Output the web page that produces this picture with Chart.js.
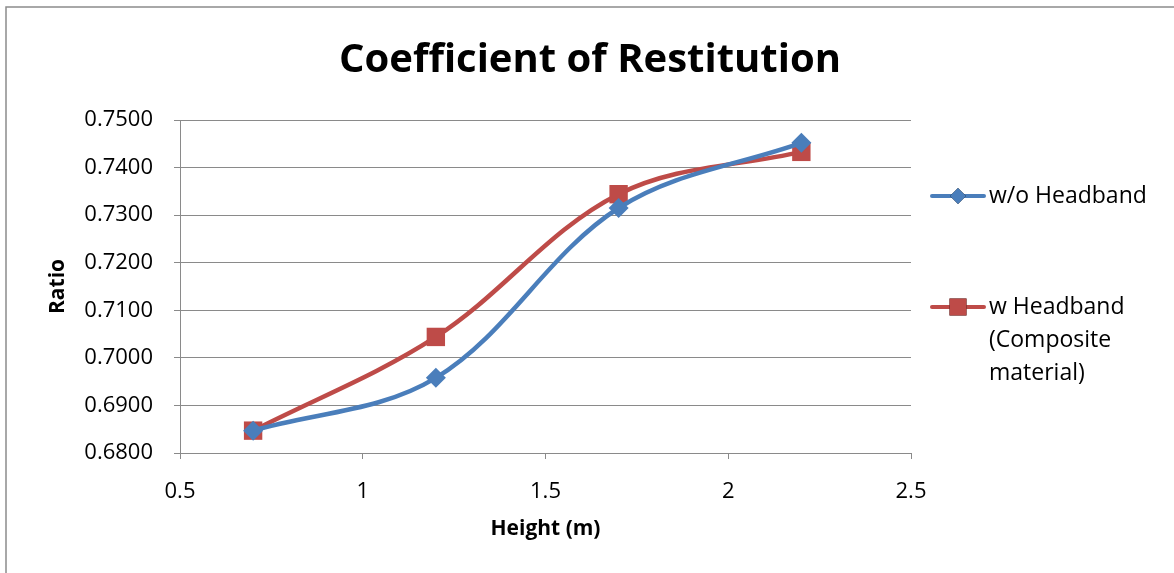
<!DOCTYPE html>
<html>
<head>
<meta charset="utf-8">
<script src="https://cdn.jsdelivr.net/npm/chart.js@4/dist/chart.umd.min.js"></script>
<style>
  html, body { margin: 0; padding: 0; background: #ffffff; }
  canvas { display: block; }
</style>
</head>
<body>
<canvas id="chart" width="1174" height="573"></canvas>
<script>
// Drop height (m) and measured rebound ratio for each condition
const chartTitle = 'Coefficient of Restitution';
const heights = [0.7, 1.2, 1.7, 2.2];
const ratioWithoutHeadband = [0.6847, 0.6958, 0.7315, 0.7452];
const ratioWithHeadband = [0.6847, 0.7044, 0.7344, 0.7433];
const seriesNames = [['w/o Headband'], ['w Headband', '(Composite', 'material)']];
const xTickValues = [0.5, 1, 1.5, 2, 2.5];
const yTickValues = [0.68, 0.69, 0.70, 0.71, 0.72, 0.73, 0.74, 0.75];
const xAxisTitle = 'Height (m)';
const yAxisTitle = 'Ratio';

const FONT = '"Open Sans", "Noto Sans", sans-serif';
const GRID = '#8a8a8a';
const BLUE = '#4a7ebb';
const RED = '#be4b48';

// Frame, centred title and side legend
const decorations = {
  id: 'decorations',
  beforeDraw(chart) {
    const ctx = chart.ctx;
    ctx.save();
    ctx.fillStyle = '#ffffff';
    ctx.fillRect(0, 0, chart.width, chart.height);
    ctx.strokeStyle = '#8c8c8c';
    ctx.lineWidth = 1.5;
    ctx.strokeRect(6, 7, chart.width + 20, chart.height + 20);
    ctx.restore();
  },
  afterDraw(chart) {
    const ctx = chart.ctx;
    ctx.save();
    ctx.fillStyle = '#000000';
    ctx.font = 'bold 40px ' + FONT;
    ctx.textAlign = 'center';
    ctx.textBaseline = 'middle';
    ctx.fillText(chartTitle, chart.width / 2 + 3, 61);

    const rowTop = [196, 307];
    const lineGap = 33;
    chart.data.datasets.forEach((ds, i) => {
      const y = rowTop[i];
      ctx.strokeStyle = ds.borderColor;
      ctx.lineWidth = 4;
      ctx.lineCap = 'round';
      ctx.beginPath();
      ctx.moveTo(932, y);
      ctx.lineTo(984, y);
      ctx.stroke();
      Chart.helpers.drawPoint(ctx, {
        pointStyle: ds.pointStyle,
        radius: ds.legendRadius,
        borderWidth: 0,
        rotation: 0
      }, 958, y);
      ctx.fillStyle = ds.backgroundColor;
      ctx.fill();
      ctx.fillStyle = '#000000';
      ctx.font = '23px ' + FONT;
      ctx.textAlign = 'left';
      ctx.textBaseline = 'middle';
      seriesNames[i].forEach((line, k) => ctx.fillText(line, 989, y + k * lineGap));
    });
    ctx.restore();
  }
};

new Chart(document.getElementById('chart'), {
  type: 'line',
  data: {
    datasets: [
      {
        label: seriesNames[0].join(' '),
        data: heights.map((h, i) => ({ x: h, y: ratioWithoutHeadband[i] })),
        borderColor: BLUE,
        backgroundColor: BLUE,
        borderWidth: 4.5,
        pointStyle: 'rectRot',
        pointRadius: 10,
        pointBorderWidth: 0,
        legendRadius: 8,
        tension: 0.35
      },
      {
        label: seriesNames[1].join(' '),
        data: heights.map((h, i) => ({ x: h, y: ratioWithHeadband[i] })),
        borderColor: RED,
        backgroundColor: RED,
        borderWidth: 4.5,
        pointStyle: 'rect',
        pointRadius: 13,
        pointBorderWidth: 0,
        legendRadius: 12,
        tension: 0.35
      }
    ]
  },
  options: {
    responsive: false,
    animation: false,
    layout: { padding: { top: 120, right: 263, left: 0, bottom: 0 } },
    plugins: {
      legend: { display: false },
      title: { display: false },
      tooltip: { enabled: false }
    },
    scales: {
      x: {
        type: 'linear',
        min: 0.5,
        max: 2.5,
        afterBuildTicks: s => { s.ticks = xTickValues.map(v => ({ value: v })); },
        afterFit: s => { s.height = 120; },
        ticks: {
          color: '#000000',
          font: { family: FONT, size: 22 },
          padding: 20,
          maxRotation: 0,
          callback: v => String(v)
        },
        grid: { drawOnChartArea: false, drawTicks: true, tickLength: 6, color: GRID, lineWidth: 1 },
        border: { display: true, color: GRID, width: 1 },
        title: {
          display: true,
          text: xAxisTitle,
          color: '#000000',
          font: { family: FONT, size: 21, weight: 'bold' },
          padding: { top: 0, bottom: 31 }
        }
      },
      y: {
        type: 'linear',
        min: 0.68,
        max: 0.75,
        afterBuildTicks: s => { s.ticks = yTickValues.map(v => ({ value: v })); },
        afterFit: s => { s.width = 180; },
        ticks: {
          color: '#000000',
          font: { family: FONT, size: 22 },
          padding: 21,
          callback: v => v.toFixed(4)
        },
        grid: { drawOnChartArea: true, drawTicks: true, tickLength: 6, color: GRID, lineWidth: 1 },
        border: { display: true, color: GRID, width: 1 },
        title: {
          display: true,
          text: yAxisTitle,
          color: '#000000',
          font: { family: FONT, size: 21, weight: 'bold' },
          padding: { top: 45, bottom: 0 }
        }
      }
    }
  },
  plugins: [decorations]
});
</script>
</body>
</html>
